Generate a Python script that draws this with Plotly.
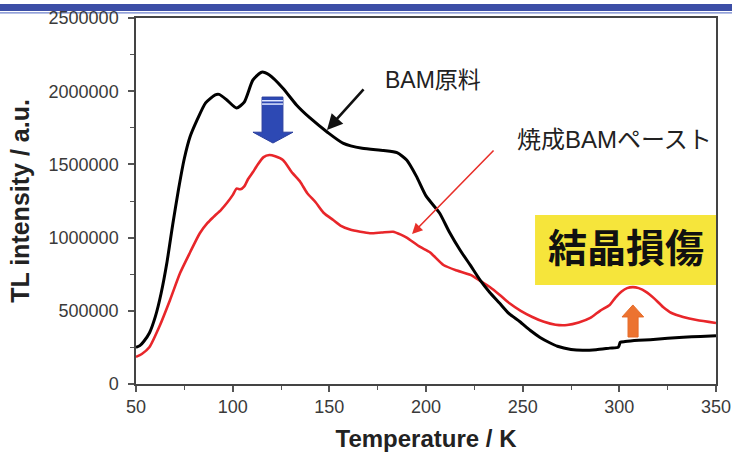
import plotly.graph_objects as go

# Thermoluminescence glow curves
temp_raw = [50, 52, 54, 57, 60, 63, 66, 69, 72, 75, 78, 81.5, 86, 91, 93, 97, 102,
            106, 110.5, 115, 119, 126, 133, 140, 149, 157, 167, 178, 185, 190, 195,
            200, 207, 212, 217.6, 223, 228, 233, 238, 243, 248.6, 254, 259, 264,
            268, 275, 281, 288, 295, 299.5, 300.5, 303, 310, 316, 325, 333, 342, 350]
tl_raw = [250000, 262000, 290000, 350000, 460000, 620000, 830000, 1090000, 1330000,
          1540000, 1690000, 1800000, 1920000, 1975000, 1978000, 1940000, 1885000,
          1926000, 2077000, 2130000, 2110000, 2020000, 1906000, 1817000, 1720000,
          1646000, 1610000, 1595000, 1580000, 1530000, 1420000, 1285000, 1168000,
          1040000, 915000, 810000, 710000, 625000, 553000, 480000, 425000, 365000,
          318000, 282000, 258000, 236000, 230000, 234000, 245000, 252000, 285000,
          290000, 298000, 303000, 313000, 320000, 325000, 330000]

temp_paste = [50, 53, 57, 62, 67.6, 72.8, 78, 83, 87, 90, 94, 97, 100, 102, 104,
              106, 108, 110.5, 113, 116, 119, 122, 126, 131, 135, 138.5, 143,
              147, 152, 156, 160.7, 166, 171, 177, 183, 187, 190, 197, 202, 209,
              216, 223, 228, 233, 238, 243, 249, 255, 261, 267, 273, 279, 285,
              290, 295, 298, 301, 304, 307, 310, 314, 318, 322.6, 327, 333, 340, 350]
tl_paste = [185000, 205000, 253000, 389000, 574000, 758000, 900000, 1030000,
            1100000, 1140000, 1190000, 1236000, 1290000, 1335000, 1330000, 1350000,
            1400000, 1448000, 1500000, 1550000, 1564000, 1555000, 1530000, 1440000,
            1380000, 1305000, 1240000, 1170000, 1120000, 1080000, 1055000, 1040000,
            1030000, 1035000, 1040000, 1020000, 1000000, 936000, 900000, 813000,
            775000, 745000, 705000, 663000, 610000, 553000, 500000, 458000, 425000,
            405000, 403000, 420000, 451000, 500000, 540000, 590000, 630000, 655000,
            662000, 655000, 628000, 585000, 526000, 485000, 458000, 437000, 417000]

x_range = [50, 350]
y_range = [0, 2500000]
x_ticks = [50, 100, 150, 200, 250, 300, 350]
y_ticks = [0, 500000, 1000000, 1500000, 2000000, 2500000]

LATIN = "Liberation Sans, Arial, Noto Sans CJK JP, sans-serif"
CJK = "Liberation Sans, Noto Sans CJK JP, sans-serif"

fig = go.Figure()
fig.add_trace(go.Scatter(x=temp_paste, y=tl_paste, mode="lines",
                         line=dict(color="#e8262a", width=2.6, shape="spline", smoothing=0.6),
                         name="焼成BAMペースト", hoverinfo="skip"))
fig.add_trace(go.Scatter(x=temp_raw, y=tl_raw, mode="lines",
                         line=dict(color="#000000", width=3, shape="spline", smoothing=0.6),
                         name="BAM原料", hoverinfo="skip"))

shapes = []
# title bar stripes at the top of the slide
shapes.append(dict(type="rect", xref="paper", yref="paper", x0=-0.25, x1=1.05,
                   y0=1.019, y1=1.0385, fillcolor="#3c4ea6", line_width=0, layer="below"))
shapes.append(dict(type="rect", xref="paper", yref="paper", x0=-0.25, x1=1.05,
                   y0=1.0125, y1=1.0155, fillcolor="#6f82cc", line_width=0, layer="below"))

# yellow highlight box
shapes.append(dict(type="rect", xref="x", yref="y", x0=256.4, x1=350,
                   y0=676000, y1=1154000, fillcolor="#f6e53b", line_width=0, layer="below"))

# blue down arrow (intensity drop)
bx0, bx1, hx0, hx1 = 115.2, 126.0, 110.5, 131.2
by_top, by_head, by_tip = 1960000, 1720000, 1646000
bxc = (hx0 + hx1) / 2
blue_path = (f"M {bx0},{by_top} L {bx1},{by_top} L {bx1},{by_head} L {hx1},{by_head} "
             f"L {bxc},{by_tip} L {hx0},{by_head} L {bx0},{by_head} Z")
shapes.append(dict(type="path", xref="x", yref="y", path=blue_path,
                   fillcolor="#2d49b4", line=dict(color="#2a3f9e", width=1)))
for yy in (1935000, 1912000):
    shapes.append(dict(type="line", xref="x", yref="y", x0=bx0, x1=bx1, y0=yy, y1=yy,
                       line=dict(color="#dfe6ff", width=1.5)))

# orange up arrow (new peak)
ox0, ox1, ohx0, ohx1 = 304.5, 309.7, 301.4, 312.6
oy_bot, oy_head, oy_tip = 321000, 458000, 540000
oxc = (ohx0 + ohx1) / 2
orange_path = (f"M {ox0},{oy_bot} L {ox1},{oy_bot} L {ox1},{oy_head} L {ohx1},{oy_head} "
               f"L {oxc},{oy_tip} L {ohx0},{oy_head} L {ox0},{oy_head} Z")
shapes.append(dict(type="path", xref="x", yref="y", path=orange_path,
                   fillcolor="#ec7330", line=dict(color="#e66a28", width=1)))

annotations = [
    dict(x=148.8, y=1735000, ax=168.4, ay=2022000, xref="x", yref="y", axref="x", ayref="y",
         text="", showarrow=True, arrowhead=2, arrowsize=1.2, arrowwidth=2.6, arrowcolor="#111"),
    dict(x=192.8, y=1025000, ax=235.7, ay=1605000, xref="x", yref="y", axref="x", ayref="y",
         text="", showarrow=True, arrowhead=2, arrowsize=1.3, arrowwidth=1.6, arrowcolor="#e8302a"),
    dict(x=177.8, y=2077000, xref="x", yref="y", xanchor="left", yanchor="middle",
         text="BAM原料", showarrow=False, font=dict(family=CJK, size=23, color="#222")),
    dict(x=246.0, y=1667000, xref="x", yref="y", xanchor="left", yanchor="middle",
         text="焼成BAMペースト", showarrow=False, font=dict(family=CJK, size=24, color="#222")),
    dict(x=303.2, y=949000, xref="x", yref="y", xanchor="center", yanchor="middle",
         text="<b>結晶損傷</b>", showarrow=False,
         font=dict(family="Noto Sans CJK JP, sans-serif", size=39, color="#111")),
]

fig.update_layout(
    width=732, height=455,
    margin=dict(l=136, r=16, t=18, b=71, autoexpand=False),
    paper_bgcolor="white", plot_bgcolor="white",
    showlegend=False,
    shapes=shapes, annotations=annotations,
    font=dict(family=LATIN, color="#333"),
)
fig.update_xaxes(
    range=x_range, tickvals=x_ticks, ticks="outside", ticklen=6, tickwidth=1.5,
    tickcolor="#555", showline=True, linecolor="#444", linewidth=1.5, mirror=True,
    showgrid=False, zeroline=False, tickfont=dict(size=18, color="#3a3a3a"),
    automargin=False,
    minor=dict(dtick=25, ticks="outside", ticklen=4, tickwidth=1.2, tickcolor="#555", showgrid=False),
    title=dict(text="<b>Temperature / K</b>", font=dict(size=24, color="#222"), standoff=14),
)
fig.update_yaxes(
    range=y_range, tickvals=y_ticks, tickformat="d", ticks="outside", ticklen=6, tickwidth=1.5,
    tickcolor="#555", showline=True, linecolor="#444", linewidth=1.5, mirror=True,
    showgrid=False, zeroline=False, tickfont=dict(size=18, color="#3a3a3a"),
    ticklabelstandoff=6, automargin=False,
    minor=dict(dtick=250000, ticks="outside", ticklen=4, tickwidth=1.2, tickcolor="#555", showgrid=False),
    title=dict(text="<b>TL intensity / a.u.</b>", font=dict(size=25, color="#222"), standoff=12),
)

fig.write_html("out.html")
